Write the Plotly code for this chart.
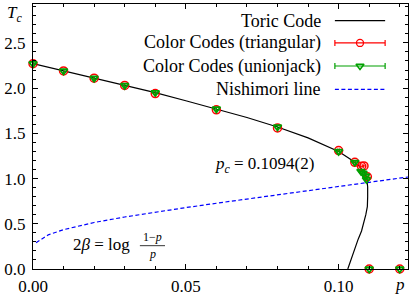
import plotly.graph_objects as go

# ---- data ----
toric_p = [0.0, 0.01, 0.02, 0.03, 0.04, 0.05, 0.06, 0.07, 0.08, 0.09, 0.10, 0.104, 0.107,
           0.1085, 0.1092, 0.1095, 0.1095, 0.1094, 0.1089, 0.1083, 0.1075, 0.1064, 0.1048, 0.1030]
toric_T = [2.27, 2.19, 2.11, 2.03, 1.95, 1.86, 1.77, 1.675, 1.57, 1.45, 1.30, 1.21, 1.13,
           1.06, 1.00, 0.91, 0.80, 0.69, 0.60, 0.51, 0.42, 0.33, 0.18, 0.0]

nish_p = [0.001, 0.005, 0.01, 0.02, 0.03, 0.04, 0.05, 0.06, 0.07, 0.08, 0.09, 0.10, 0.11, 0.12, 0.125]
nish_T = [0.290, 0.378, 0.435, 0.514, 0.575, 0.629, 0.679, 0.727, 0.773, 0.819, 0.864, 0.910, 0.957, 1.004, 1.028]

tri_p = [0.0, 0.01, 0.02, 0.03, 0.04, 0.06, 0.08, 0.10, 0.1053, 0.1075, 0.1083, 0.1094, 0.11, 0.12]
tri_T = [2.27, 2.19, 2.11, 2.03, 1.94, 1.76, 1.56, 1.31, 1.18, 1.135, 1.14, 1.02, 0.0, 0.0]
tri_err = [0, 0, 0, 0, 0, 0, 0, 0.0003, 0.0004, 0.0006, 0.0006, 0.0005, 0, 0]

uj_p = [0.0, 0.01, 0.02, 0.03, 0.04, 0.06, 0.08, 0.10, 0.1053, 0.1073, 0.108, 0.1088, 0.1091, 0.11, 0.12]
uj_T = [2.27, 2.19, 2.11, 2.03, 1.95, 1.77, 1.57, 1.30, 1.18, 1.08, 1.06, 1.03, 0.99, 0.0, 0.0]
uj_err = [0, 0, 0, 0, 0, 0, 0, 0.0003, 0.0003, 0.0004, 0.0004, 0.0004, 0.0004, 0, 0]

legend_labels = ["Toric Code", "Color Codes (triangular)", "Color Codes (unionjack)", "Nishimori line"]

RED = "#ff0000"
GREEN = "#00a000"
BLUE = "#0000ff"
FONT = "Liberation Serif"

fig = go.Figure()

fig.add_trace(go.Scatter(x=nish_p, y=nish_T, mode="lines",
                         line=dict(color=BLUE, width=1.2, dash="4px,2.5px"), showlegend=False))
fig.add_trace(go.Scatter(x=toric_p, y=toric_T, mode="lines",
                         line=dict(color="black", width=1.2), showlegend=False))
fig.add_trace(go.Scatter(x=tri_p, y=tri_T, mode="markers",
                         marker=dict(symbol="circle-open", size=8, color=RED, line=dict(width=1.5)),
                         error_x=dict(type="data", array=tri_err, color=RED, thickness=1, width=2),
                         showlegend=False, cliponaxis=False))
fig.add_trace(go.Scatter(x=uj_p, y=uj_T, mode="markers",
                         marker=dict(symbol="triangle-down-open", size=7, color=GREEN, line=dict(width=1.8)),
                         error_x=dict(type="data", array=uj_err, color=GREEN, thickness=1, width=2),
                         showlegend=False, cliponaxis=False))

# ---- custom legend (text right-aligned, key on the right) on an overlay unit axis ----
rows_y = [0.937, 0.853, 0.766, 0.678]
kx0, kx1, kc = 0.805, 0.939, 0.872
fig.add_trace(go.Scatter(x=[kx0, kx1], y=[rows_y[0]] * 2, mode="lines", xaxis="x2", yaxis="y2",
                         line=dict(color="black", width=1.2), showlegend=False))
fig.add_trace(go.Scatter(x=[kc], y=[rows_y[1]], mode="markers", xaxis="x2", yaxis="y2",
                         marker=dict(symbol="circle-open", size=7, color=RED, line=dict(width=1.3)),
                         error_x=dict(type="data", array=[kc - kx0], color=RED, thickness=1.2, width=3),
                         showlegend=False))
fig.add_trace(go.Scatter(x=[kc], y=[rows_y[2]], mode="markers", xaxis="x2", yaxis="y2",
                         marker=dict(symbol="triangle-down-open", size=7, color=GREEN, line=dict(width=1.5)),
                         error_x=dict(type="data", array=[kc - kx0], color=GREEN, thickness=1.2, width=3),
                         showlegend=False))
fig.add_trace(go.Scatter(x=[kx0, kx1], y=[rows_y[3]] * 2, mode="lines", xaxis="x2", yaxis="y2",
                         line=dict(color=BLUE, width=1.2, dash="4px,2.5px"), showlegend=False))

annotations = []
for lab, yy in zip(legend_labels, rows_y):
    annotations.append(dict(x=0.773, y=yy, xref="paper", yref="paper", text=lab, showarrow=False,
                            xanchor="right", yanchor="middle", font=dict(family=FONT, size=18, color="black")))

annotations += [
    dict(x=-0.05, y=0.962, xref="paper", yref="paper", text="<i>T</i><sub><i>c</i></sub>",
         showarrow=False, xanchor="center", yanchor="middle", font=dict(family=FONT, size=17, color="black")),
    dict(x=0.979, y=-0.058, xref="paper", yref="paper", text="<i>p</i>",
         showarrow=False, xanchor="center", yanchor="middle", font=dict(family=FONT, size=17, color="black")),
    dict(x=0.48, y=0.394, xref="paper", yref="paper", text="<i>p</i><sub><i>c</i></sub> = 0.1094(2)",
         showarrow=False, xanchor="left", yanchor="middle", font=dict(family=FONT, size=17, color="black")),
    dict(x=0.101, y=0.092, xref="paper", yref="paper", text="2<i>β</i> = log",
         showarrow=False, xanchor="left", yanchor="middle", font=dict(family=FONT, size=17, color="black")),
    dict(x=0.318, y=0.122, xref="paper", yref="paper", text="1−<i>p</i>",
         showarrow=False, xanchor="center", yanchor="middle", font=dict(family=FONT, size=12, color="black")),
    dict(x=0.318, y=0.056, xref="paper", yref="paper", text="<i>p</i>",
         showarrow=False, xanchor="center", yanchor="middle", font=dict(family=FONT, size=12, color="black")),
]

shapes = [dict(type="line", xref="paper", yref="paper", x0=0.285, x1=0.352, y0=0.088, y1=0.088,
               line=dict(color="black", width=0.8))]

axis_common = dict(showgrid=False, zeroline=False, showline=True, linecolor="black", linewidth=1,
                   mirror="allticks", ticks="inside", ticklen=5, tickwidth=1, tickcolor="black",
                   automargin=False,
                   tickfont=dict(family=FONT, size=17, color="black"))

fig.update_layout(
    width=415, height=297,
    margin=dict(l=33, r=7, t=4, b=27.5, pad=0),
    paper_bgcolor="white", plot_bgcolor="white",
    font=dict(family=FONT),
    xaxis=dict(range=[0, 0.1227], tickvals=[0, 0.05, 0.10], ticktext=["0.00", "0.05", "0.10"],
               minor=dict(dtick=0.01, tick0=0, ticks="inside", ticklen=3, tickcolor="black"),
               ticklabelstandoff=2, **axis_common),
    yaxis=dict(range=[0, 2.93], tickvals=[0, 0.5, 1.0, 1.5, 2.0, 2.5],
               ticktext=["0.0", "0.5", "1.0", "1.5", "2.0", "2.5"],
               minor=dict(dtick=0.1, tick0=0, ticks="inside", ticklen=3, tickcolor="black"),
               ticklabelstandoff=3, **axis_common),
    xaxis2=dict(range=[0, 1], overlaying="x", visible=False, fixedrange=True),
    yaxis2=dict(range=[0, 1], overlaying="y", visible=False, fixedrange=True),
    annotations=annotations,
    shapes=shapes,
    showlegend=False,
)

fig.write_html("out.html", config={"displayModeBar": False, "staticPlot": True},
               post_script="document.body.style.margin='0';document.body.style.overflow='hidden';")
